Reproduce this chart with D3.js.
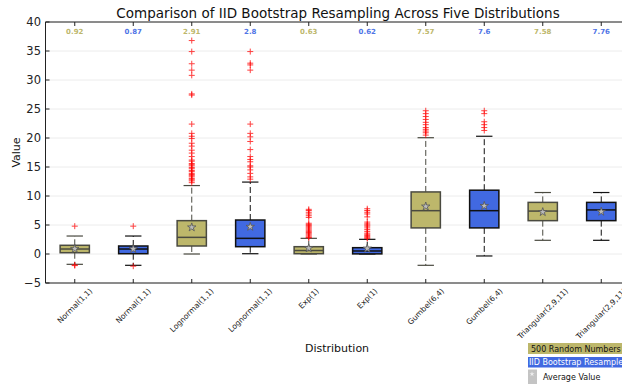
<!doctype html>
<html>
<head>
<meta charset="utf-8"/>
<title>IID Bootstrap Boxplots</title>
<script src="https://d3js.org/d3.v7.min.js"></script>
<style>
body { margin: 0; background: white; }
text { font-family: 'DejaVu Sans', sans-serif; }
</style>
</head>
<body>
<svg id="svg1"></svg>
<script>
// data
const categories = ['Normal(1,1)', 'Normal(1,1)', 'Lognormal(1,1)', 'Lognormal(1,1)', 'Exp(1)', 'Exp(1)',
    'Gumbel(6,4)', 'Gumbel(6,4)', 'Triangular(2,9,11)', 'Triangular(2,9,11)']
const groups = [0, 1, 0, 1, 0, 1, 0, 1, 0, 1] // 0 = 500 random numbers, 1 = bootstrap
const q1 = [0.22, 0.05, 1.38, 1.26, 0.05, 0.02, 4.5, 4.5, 5.75, 5.75]
const medians = [0.86, 0.86, 2.87, 2.7, 0.6, 0.52, 7.47, 7.47, 7.4, 7.6]
const q3 = [1.5, 1.38, 5.75, 5.86, 1.26, 1.09, 10.7, 11.0, 8.9, 8.9]
const whiskLo = [-1.78, -1.95, 0, 0.05, 0, 0, -1.95, -0.34, 2.36, 2.36]
const whiskHi = [3.1, 3.1, 11.8, 12.4, 2.7, 2.53, 20.05, 20.3, 10.6, 10.6]
const means = [0.9, 0.87, 4.6, 4.7, 1.0, 0.95, 8.2, 8.3, 7.24, 7.3]
const topLabels = ['0.92', '0.87', '2.91', '2.8', '0.63', '0.62', '7.57', '7.6', '7.58', '7.76']
const outliers = [
    [4.8, -1.9, -2.0],
    [4.8, -2.1],
    [36.8, 34.9, 32.8, 31.7, 30.8, 27.6, 27.4, 22.4, 20.8, 20.3, 19.9, 19.1, 18.6, 17.9, 17.4, 16.8,
     16.2, 16.0, 15.6, 15.4, 15.2, 14.9, 14.7, 14.4, 14.2, 13.9, 13.7, 13.5, 13.3, 13.0, 12.8, 12.6, 12.3],
    [34.9, 32.9, 32.6, 31.7, 22.4, 20.8, 20.2, 19.4, 18.0, 16.8, 16.3, 15.9, 15.2, 15.0, 14.5, 13.9, 13.3, 12.9],
    [7.7, 7.5, 7.2, 6.9, 6.6, 6.3, 5.3, 5.1, 4.9, 4.7, 4.5, 4.3, 4.1, 3.9, 3.7, 3.5, 3.3, 3.1, 2.9, 2.8],
    [7.8, 7.5, 7.2, 6.9, 6.4, 5.5, 5.2, 5.0, 4.8, 4.5, 4.2, 3.9, 3.6, 3.4, 3.2, 3.0, 2.8, 2.7],
    [24.7, 24.2, 23.7, 23.2, 22.7, 22.3, 21.8, 21.5, 21.2, 20.9, 20.5],
    [24.7, 24.2, 22.8, 22.3, 21.8, 21.3],
    [],
    []
]
const yTicks = [-5, 0, 5, 10, 15, 20, 25, 30, 35, 40]
const legendLabels = ['500 Random Numbers', 'IID Bootstrap Resample', 'Average Value']

const width = 622
const height = 384
const fills = ['#BDB76B', '#4169E1']
const edges = ['#4a4a40', '#111']
const labelColors = ['#bdb76b', '#4f74e6']

const svg = d3.select('#svg1')
    .attr('width', width)
    .attr('height', height)

const x = d3.scaleLinear().domain([0.5, 10.5]).range([45.5, 630.5])
const y = d3.scaleLinear().domain([-5, 40]).range([283, 22])
const unit = x(1) - x(0)

// grid
svg.append('g').selectAll('line').data(yTicks).join('line')
    .attr('x1', x(0.5)).attr('x2', x(10.5))
    .attr('y1', d => y(d)).attr('y2', d => y(d))
    .style('stroke', '#ececec').style('stroke-width', 1)

const pos = categories.map((c, i) => i + 1)

const box = svg.append('g').selectAll('g').data(pos).join('g')

// whiskers
box.append('line')
    .attr('x1', d => x(d)).attr('x2', d => x(d))
    .attr('y1', (d, i) => y(q3[i])).attr('y2', (d, i) => y(whiskHi[i]))
    .style('stroke', (d, i) => edges[groups[i]]).style('stroke-dasharray', '6,3')
box.append('line')
    .attr('x1', d => x(d)).attr('x2', d => x(d))
    .attr('y1', (d, i) => y(q1[i])).attr('y2', (d, i) => y(whiskLo[i]))
    .style('stroke', (d, i) => edges[groups[i]]).style('stroke-dasharray', '6,3')
// caps
for (const arr of [whiskHi, whiskLo]) {
    box.append('line')
        .attr('x1', d => x(d - 0.14)).attr('x2', d => x(d + 0.14))
        .attr('y1', (d, i) => y(arr[i])).attr('y2', (d, i) => y(arr[i]))
        .style('stroke', (d, i) => edges[groups[i]]).style('stroke-width', 1.2)
}
// boxes
box.append('rect')
    .attr('x', d => x(d - 0.25)).attr('width', unit * 0.5)
    .attr('y', (d, i) => y(q3[i])).attr('height', (d, i) => y(q1[i]) - y(q3[i]))
    .style('fill', (d, i) => fills[groups[i]])
    .style('stroke', (d, i) => edges[groups[i]]).style('stroke-width', 1.5)
// medians
box.append('line')
    .attr('x1', d => x(d - 0.25)).attr('x2', d => x(d + 0.25))
    .attr('y1', (d, i) => y(medians[i])).attr('y2', (d, i) => y(medians[i]))
    .style('stroke', (d, i) => edges[groups[i]]).style('stroke-width', 1.5)
// outliers
box.each(function(d, i) {
    d3.select(this).selectAll('path.out').data(outliers[i]).join('path')
        .attr('class', 'out')
        .attr('transform', v => `translate(${x(d)},${y(v)})`)
        .attr('d', 'M-3,0H3M0,-3V3')
        .style('stroke', 'red').style('stroke-width', 1).style('opacity', 0.75)
})
// mean stars
box.append('path')
    .attr('transform', (d, i) => `translate(${x(d)},${y(means[i])})`)
    .attr('d', d3.symbol().type(d3.symbolStar).size(22))
    .style('fill', '#bbb').style('stroke', '#555').style('stroke-width', 0.8)

// labels above
svg.append('g').selectAll('text').data(pos).join('text')
    .attr('x', d => x(d)).attr('y', 34)
    .attr('text-anchor', 'middle')
    .style('font-size', '7px').style('font-weight', 'bold')
    .style('fill', (d, i) => labelColors[groups[i]])
    .text((d, i) => topLabels[i])

// spines
svg.append('line').attr('x1', x(0.5)).attr('x2', x(10.5)).attr('y1', 22).attr('y2', 22)
    .style('stroke', '#222')
svg.append('line').attr('x1', x(0.5)).attr('x2', x(10.5)).attr('y1', 283).attr('y2', 283)
    .style('stroke', '#222')
svg.append('line').attr('x1', x(0.5)).attr('x2', x(0.5)).attr('y1', 22).attr('y2', 283)
    .style('stroke', '#222')

// y ticks
const yt = svg.append('g').selectAll('g').data(yTicks).join('g')
yt.append('line').attr('x1', x(0.5)).attr('x2', x(0.5) + 4)
    .attr('y1', d => y(d)).attr('y2', d => y(d)).style('stroke', '#222')
yt.append('text').attr('x', 41).attr('y', d => y(d))
    .attr('dy', '0.35em').attr('text-anchor', 'end')
    .style('font-size', '11.5px').style('fill', '#222')
    .text(d => d < 0 ? '\u2212' + Math.abs(d) : d)

// x ticks + rotated labels
const xt = svg.append('g').selectAll('g').data(pos).join('g')
xt.append('line').attr('x1', d => x(d)).attr('x2', d => x(d))
    .attr('y1', 283).attr('y2', 279).style('stroke', '#222')
xt.append('line').attr('x1', d => x(d)).attr('x2', d => x(d))
    .attr('y1', 22).attr('y2', 26).style('stroke', '#222')
xt.append('text')
    .attr('text-anchor', 'middle').attr('dy', '0.35em')
    .style('font-size', '7.6px').style('fill', '#222')
    .text((d, i) => categories[i])
    .each(function(d) {
        const L = this.getComputedTextLength()
        const half = (L + 7.6) * 0.7071 / 2
        d3.select(this).attr('transform', `translate(${x(d)},${287 + half}) rotate(-45)`)
    })

// titles
svg.append('text').attr('x', 338).attr('y', 18).attr('text-anchor', 'middle')
    .style('font-size', '13.5px').style('fill', '#111')
    .text('Comparison of IID Bootstrap Resampling Across Five Distributions')
svg.append('text').attr('x', 337).attr('y', 352).attr('text-anchor', 'middle')
    .style('font-size', '11px').style('fill', '#111').text('Distribution')
svg.append('text').attr('transform', 'translate(20,152.5) rotate(-90)').attr('text-anchor', 'middle')
    .style('font-size', '11px').style('fill', '#111').text('Value')

// legend
const lg = svg.append('g')
lg.append('rect').attr('x', 528).attr('y', 343).attr('width', 100).attr('height', 11).style('fill', fills[0])
lg.append('rect').attr('x', 528).attr('y', 357).attr('width', 100).attr('height', 10.5).style('fill', fills[1])
lg.append('rect').attr('x', 528).attr('y', 369.5).attr('width', 9).attr('height', 15).style('fill', '#c4c4c4')
lg.append('path').attr('transform', 'translate(532,374)')
    .attr('d', d3.symbol().type(d3.symbolStar).size(8)).style('fill', '#eee')
lg.append('text').attr('x', 531).attr('y', 349).attr('dy', '0.35em')
    .style('font-size', '8px').style('fill', '#111').text(legendLabels[0])
lg.append('text').attr('x', 529).attr('y', 362.5).attr('dy', '0.35em')
    .style('font-size', '8px').style('fill', 'white').text(legendLabels[1])
lg.append('text').attr('x', 543).attr('y', 377.5).attr('dy', '0.35em')
    .style('font-size', '8px').style('fill', '#111').text(legendLabels[2])
</script>
</body>
</html>
